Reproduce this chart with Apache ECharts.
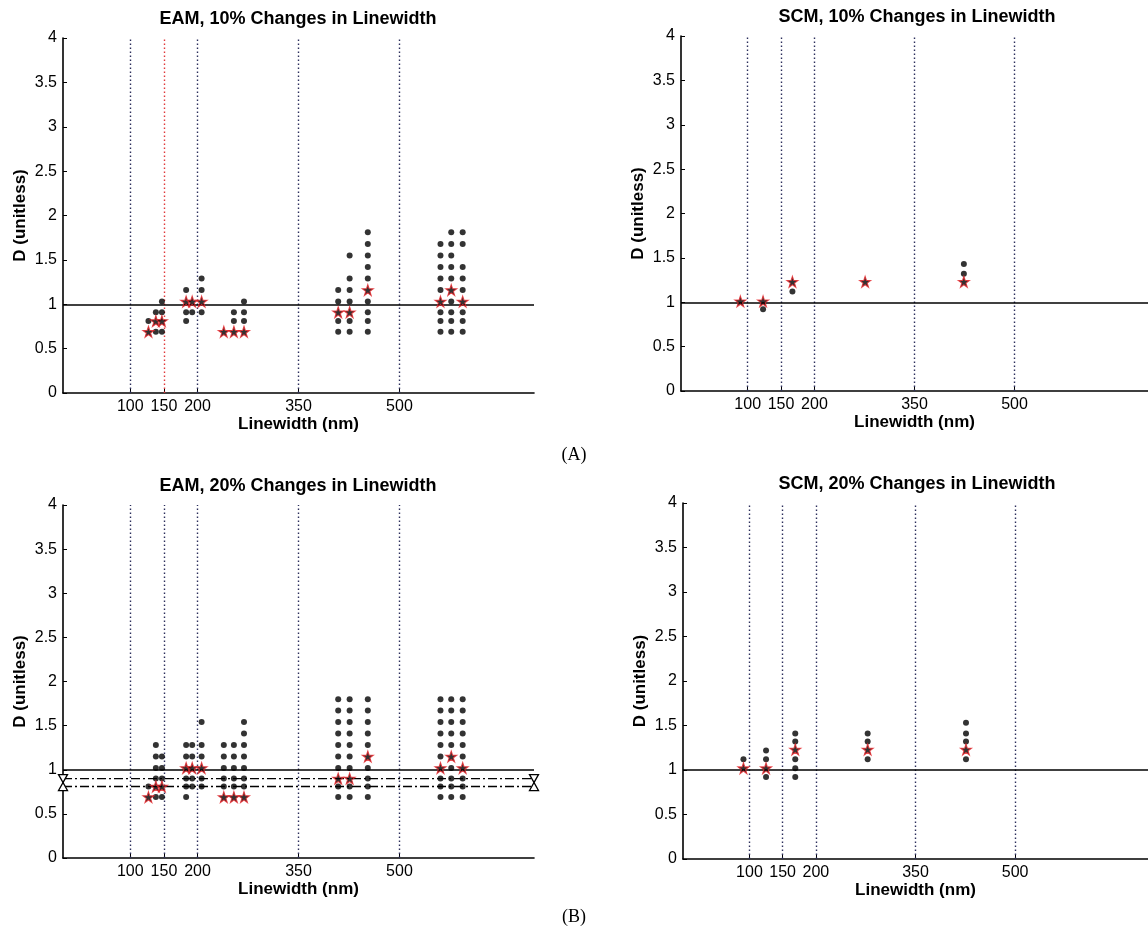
<!DOCTYPE html>
<html>
<head>
<meta charset="utf-8">
<script src="https://cdn.jsdelivr.net/npm/echarts@6/dist/echarts.min.js"></script>
<style>
  html, body { margin: 0; padding: 0; background: #ffffff; }
  #chart { width: 1148px; height: 937px; }
</style>
</head>
<body>
<div id="chart"></div>
<script>
// ---- data -----------------------------------------------------------------
// Reference linewidths (nm) marked by the dotted guides and x tick labels
const X_TICKS = [100, 150, 200, 350, 500];

// Linewidth columns (nm) of the simulated structures
const EAM_COLUMNS = [127, 138, 147, 183, 192, 206, 239, 254, 269, 409, 426, 453, 561, 577, 594];
const SCM10_COLUMNS = [89, 123, 167, 276, 424];
const SCM20_COLUMNS = [91, 125, 169, 278, 426];

// EAM, 10 % changes: highlighted value per column and the remaining values
const EAM10_STARS = [0.69, 0.81, 0.81, 1.03, 1.03, 1.03, 0.69, 0.69, 0.69, 0.91, 0.91, 1.16, 1.03, 1.16, 1.03];
const EAM10_DOTS = [
  [0.81],
  [0.69, 0.91],
  [0.69, 0.91, 1.03],
  [0.81, 0.91, 1.16],
  [0.91],
  [0.91, 1.16, 1.29],
  [],
  [0.81, 0.91],
  [0.81, 0.91, 1.03],
  [0.69, 0.81, 1.03, 1.16],
  [0.69, 0.81, 1.03, 1.16, 1.29, 1.55],
  [0.69, 0.81, 0.91, 1.03, 1.29, 1.42, 1.55, 1.68, 1.81],
  [0.69, 0.81, 0.91, 1.16, 1.29, 1.42, 1.55, 1.68],
  [0.69, 0.81, 0.91, 1.03, 1.29, 1.42, 1.55, 1.68, 1.81],
  [0.69, 0.81, 0.91, 1.16, 1.29, 1.42, 1.68, 1.81]
];

// EAM, 20 % changes
const EAM20_STARS = [0.69, 0.81, 0.81, 1.02, 1.02, 1.02, 0.69, 0.69, 0.69, 0.90, 0.90, 1.15, 1.02, 1.15, 1.02];
const EAM20_DOTS = [
  [0.81],
  [0.69, 0.90, 1.02, 1.15, 1.28],
  [0.69, 0.90, 1.02, 1.15],
  [0.69, 0.81, 0.90, 1.15, 1.28],
  [0.81, 0.90, 1.15, 1.28],
  [0.81, 0.90, 1.15, 1.28, 1.54],
  [0.81, 0.90, 1.02, 1.15, 1.28],
  [0.81, 0.90, 1.02, 1.15, 1.28],
  [0.81, 0.90, 1.02, 1.15, 1.28, 1.41, 1.54],
  [0.69, 0.81, 1.02, 1.15, 1.28, 1.41, 1.54, 1.67, 1.80],
  [0.69, 0.81, 1.02, 1.15, 1.28, 1.41, 1.54, 1.67, 1.80],
  [0.69, 0.81, 0.90, 1.02, 1.28, 1.41, 1.54, 1.67, 1.80],
  [0.69, 0.81, 0.90, 1.15, 1.28, 1.41, 1.54, 1.67, 1.80],
  [0.69, 0.81, 0.90, 1.02, 1.28, 1.41, 1.54, 1.67, 1.80],
  [0.69, 0.81, 0.90, 1.15, 1.28, 1.41, 1.54, 1.67, 1.80]
];
// Threshold levels drawn as dash-dot lines in the EAM 20 % panel (upper, lower)
const EAM20_BANDS = [0.90, 0.81];

// SCM, 10 % changes
const SCM10_STARS = [1.01, 1.01, 1.23, 1.23, 1.23];
const SCM10_DOTS = [[], [0.92], [1.12], [], [1.32, 1.43]];

// SCM, 20 % changes
const SCM20_STARS = [1.02, 1.02, 1.23, 1.23, 1.23];
const SCM20_DOTS = [
  [1.12],
  [0.92, 1.12, 1.22],
  [0.92, 1.02, 1.12, 1.32, 1.41],
  [1.12, 1.32, 1.41],
  [1.12, 1.32, 1.41, 1.53]
];

// ---- drawing --------------------------------------------------------------
const FONT = '"Liberation Sans", Arial, Helvetica, sans-serif';
const STAR = 'path://M50,0 L61.8,35.1 L98.9,35.1 L68.9,56.7 L80.3,91.9 L50,70 L19.7,91.9 L31.1,56.7 L1.1,35.1 L38.2,35.1 Z';
const GUIDE_COLOR = '#2c2f5c';
const GUIDE_RED = '#e0393b';

const PANELS = [
  { title: 'EAM, 10% Changes in Linewidth', cols: EAM_COLUMNS, dots: EAM10_DOTS, stars: EAM10_STARS,
    box: { left: 63, top: 38, width: 471, height: 355 }, titlePos: [298, 19], redGuide: 150, bands: [] },
  { title: 'SCM, 10% Changes in Linewidth', cols: SCM10_COLUMNS, dots: SCM10_DOTS, stars: SCM10_STARS,
    box: { left: 681, top: 36, width: 476, height: 355 }, titlePos: [917, 17], redGuide: null, bands: [] },
  { title: 'EAM, 20% Changes in Linewidth', cols: EAM_COLUMNS, dots: EAM20_DOTS, stars: EAM20_STARS,
    box: { left: 63, top: 505, width: 471, height: 353 }, titlePos: [298, 486], redGuide: null, bands: EAM20_BANDS },
  { title: 'SCM, 20% Changes in Linewidth', cols: SCM20_COLUMNS, dots: SCM20_DOTS, stars: SCM20_STARS,
    box: { left: 683, top: 503, width: 473, height: 356 }, titlePos: [917, 484], redGuide: null, bands: [] }
];

const grids = [], xAxes = [], yAxes = [], series = [], graphics = [];

PANELS.forEach((p, i) => {
  grids.push(Object.assign({ containLabel: false }, p.box));

  xAxes.push({
    type: 'value', gridIndex: i, min: 0, max: 700,
    axisLine: { show: true, onZero: false, lineStyle: { color: '#000', width: 1.6 } },
    axisTick: { show: true, inside: true, length: 4, customValues: X_TICKS, lineStyle: { color: '#000', width: 1 } },
    axisLabel: { customValues: X_TICKS, color: '#000', fontSize: 16, fontFamily: FONT, margin: 6 },
    splitLine: { show: false },
    name: 'Linewidth (nm)', nameLocation: 'middle', nameGap: 21,
    nameTextStyle: { color: '#000', fontSize: 17, fontWeight: 'bold', fontFamily: FONT }
  });

  yAxes.push({
    type: 'value', gridIndex: i, min: 0, max: 4, interval: 0.5,
    axisLine: { show: true, onZero: false, lineStyle: { color: '#000', width: 1.6 } },
    axisTick: { show: true, inside: true, length: 4, lineStyle: { color: '#000', width: 1 } },
    axisLabel: { color: '#000', fontSize: 16, fontFamily: FONT, margin: 6 },
    splitLine: { show: false },
    name: 'D (unitless)', nameLocation: 'middle', nameGap: 34, nameRotate: 90,
    nameTextStyle: { color: '#000', fontSize: 17, fontWeight: 'bold', fontFamily: FONT }
  });

  const dotData = [];
  p.cols.forEach((x, c) => p.dots[c].forEach(d => dotData.push([x, d])));
  const starData = p.cols.map((x, c) => [x, p.stars[c]]);

  const guides = X_TICKS.map(v => ({
    xAxis: v,
    lineStyle: { color: v === p.redGuide ? GUIDE_RED : GUIDE_COLOR, type: [1.5, 2.5], width: 1.4 }
  }));
  guides.push({ yAxis: 1, lineStyle: { color: '#000', type: 'solid', width: 1.6 } });

  series.push({
    type: 'scatter', xAxisIndex: i, yAxisIndex: i, data: dotData,
    symbol: 'circle', symbolSize: 6, itemStyle: { color: '#000' }, z: 3,
    markLine: {
      silent: true, symbol: ['none', 'none'], label: { show: false }, z: 1,
      emphasis: { disabled: true }, data: guides
    }
  });

  p.bands.forEach((level, b) => {
    series.push({
      type: 'line', xAxisIndex: i, yAxisIndex: i, clip: false,
      data: [[0, level], [700, level]],
      symbol: 'triangle', symbolSize: [9, 8], symbolRotate: b === 0 ? 180 : 0, showSymbol: true,
      itemStyle: { color: '#fff', borderColor: '#000', borderWidth: 1.3 },
      lineStyle: { color: '#000', width: 1.3, type: [9, 3, 2, 3] }, z: 2
    });
  });

  series.push({
    type: 'scatter', xAxisIndex: i, yAxisIndex: i, data: starData,
    symbol: STAR, symbolSize: 11,
    itemStyle: { color: '#000', borderColor: '#e8262a', borderWidth: 1.1 }, z: 4
  });

  graphics.push({
    type: 'text', x: p.titlePos[0], y: p.titlePos[1],
    style: { text: p.title, fill: '#000', font: 'bold 18px ' + FONT, textAlign: 'center', textVerticalAlign: 'middle' }
  });
});

graphics.push({ type: 'text', x: 574, y: 455,
  style: { text: '(A)', fill: '#000', font: '18px "Liberation Serif", "Times New Roman", serif', textAlign: 'center', textVerticalAlign: 'middle' } });
graphics.push({ type: 'text', x: 574, y: 917,
  style: { text: '(B)', fill: '#000', font: '18px "Liberation Serif", "Times New Roman", serif', textAlign: 'center', textVerticalAlign: 'middle' } });

const chart = echarts.init(document.getElementById('chart'), null, { renderer: 'canvas' });
chart.setOption({
  backgroundColor: '#ffffff',
  animation: false,
  grid: grids,
  xAxis: xAxes,
  yAxis: yAxes,
  series: series,
  graphic: graphics
});
</script>
</body>
</html>
